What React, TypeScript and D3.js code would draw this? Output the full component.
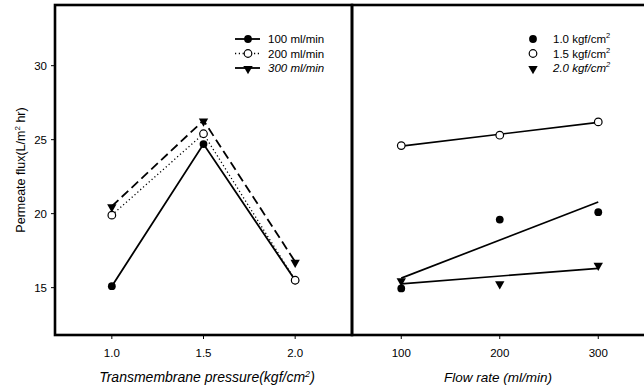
import React from "react";
import * as d3 from "d3";

// left panel: flux vs transmembrane pressure, one series per flow rate
const pressures = [1.0, 1.5, 2.0];
const flux100 = [15.1, 24.7, 15.5];
const flux200 = [19.9, 25.4, 15.5];
const flux300 = [20.5, 26.3, 16.75];

// right panel: flux vs flow rate, one series per pressure
const flowRates = [100, 200, 300];
const fluxP10 = [14.95, 19.6, 20.1];
const fluxP15 = [24.6, 25.3, 26.2];
const fluxP20 = [15.5, 15.3, 16.55];

const yTicks = [15, 20, 25, 30];
const pressureTicks = [1.0, 1.5, 2.0];
const flowTicks = [100, 200, 300];

const FONT = "'Liberation Sans', Arial, sans-serif";

const top = 5, bottom = 335;
const y = d3.scaleLinear().domain([11.8, 34.1]).range([bottom, top]);
const xL = d3.scaleLinear().domain([0.69, 2.31]).range([55, 352]);
const xR = d3.scaleLinear().domain([51, 350]).range([353, 647.5]);

const fit = (xs: number[], ys: number[]) => {
  const mx = d3.mean(xs)!, my = d3.mean(ys)!;
  const num = d3.sum(xs, (x, i) => (x - mx) * (ys[i] - my));
  const den = d3.sum(xs, (x) => (x - mx) * (x - mx));
  const b = num / den;
  return (x: number) => my + b * (x - mx);
};

const tri = d3.symbol().type(d3.symbolTriangle).size(38)();

const Marker = ({ kind, cx, cy }: { kind: string; cx: number; cy: number }) => {
  if (kind === "filled") return <circle cx={cx} cy={cy} r={3.9} fill="#000" />;
  if (kind === "open") return <circle cx={cx} cy={cy} r={3.8} fill="#fff" stroke="#000" strokeWidth={1.2} />;
  return <path d={tri!} transform={`translate(${cx},${cy + 0.8}) rotate(180)`} fill="#000" />;
};

export default function App() {
  const leftSeries = [
    { name: "100 ml/min", vals: flux100, kind: "filled", dash: undefined, italic: false },
    { name: "200 ml/min", vals: flux200, kind: "open", dash: "1.2,2.6", italic: false },
    { name: "300 ml/min", vals: flux300, kind: "tri", dash: "9,4.5", italic: true },
  ];
  const rightSeries = [
    { name: "1.0 kgf/cm", vals: fluxP10, kind: "filled", italic: false },
    { name: "1.5 kgf/cm", vals: fluxP15, kind: "open", italic: false },
    { name: "2.0 kgf/cm", vals: fluxP20, kind: "tri", italic: true },
  ];
  const lineL = d3.line<number>().x((_, i) => xL(pressures[i])).y((d) => y(d));
  const legendY = [39, 53.5, 68];

  return (
    <svg width={644} height={391} style={{ position: "absolute", left: 0, top: 0, background: "#fff" }} fontFamily={FONT}>
      {/* frames */}
      <rect x={55} y={top} width={297} height={bottom - top} fill="none" stroke="#000" strokeWidth={2.6} />
      <rect x={352} y={top} width={300} height={bottom - top} fill="none" stroke="#000" strokeWidth={2.6} />

      {/* y axis ticks */}
      {yTicks.map((t) => (
        <g key={t}>
          <line x1={51} x2={55} y1={y(t)} y2={y(t)} stroke="#000" strokeWidth={1} />
          <text x={47} y={y(t)} dy="0.35em" textAnchor="end" fontSize={11.5}>{t}</text>
        </g>
      ))}
      <text transform={`translate(25,${(top + bottom) / 2}) rotate(-90)`} textAnchor="middle" fontSize={12.5}>
        Permeate flux(L/m<tspan dy={-5} fontSize={8}>2</tspan><tspan dy={5}> hr)</tspan>
      </text>

      {/* left x axis */}
      {pressureTicks.map((t) => (
        <g key={t}>
          <line x1={xL(t)} x2={xL(t)} y1={bottom} y2={bottom + 4} stroke="#000" strokeWidth={1} />
          <text x={xL(t)} y={353} dy="0.35em" textAnchor="middle" fontSize={11.5}>{t.toFixed(1)}</text>
        </g>
      ))}
      <text x={207} y={382} textAnchor="middle" fontSize={14} fontStyle="italic">
        Transmembrane pressure(kgf/cm<tspan dy={-5.5} fontSize={9}>2</tspan><tspan dy={5.5}>)</tspan>
      </text>

      {/* right x axis */}
      {flowTicks.map((t) => (
        <g key={t}>
          <line x1={xR(t)} x2={xR(t)} y1={bottom} y2={bottom + 4} stroke="#000" strokeWidth={1} />
          <text x={xR(t)} y={353} dy="0.35em" textAnchor="middle" fontSize={11.5}>{t}</text>
        </g>
      ))}
      <text x={498} y={382} textAnchor="middle" fontSize={13.5} fontStyle="italic">Flow rate (ml/min)</text>

      {/* left panel series */}
      {leftSeries.map((s) => (
        <g key={s.name}>
          <path d={lineL(s.vals)!} fill="none" stroke="#000" strokeWidth={s.dash === "1.2,2.6" ? 1.3 : 1.8} strokeDasharray={s.dash} />
        </g>
      ))}
      {leftSeries.map((s) => (
        <g key={s.name + "m"}>
          {s.vals.map((v, i) => <Marker key={i} kind={s.kind} cx={xL(pressures[i])} cy={y(v)} />)}
        </g>
      ))}

      {/* left legend */}
      {leftSeries.map((s, i) => (
        <g key={s.name + "l"}>
          <line x1={235} x2={260} y1={legendY[i]} y2={legendY[i]} stroke="#000"
            strokeWidth={s.kind === "open" ? 1.3 : 1.8} strokeDasharray={s.kind === "open" ? s.dash : undefined} />
          <Marker kind={s.kind} cx={248} cy={legendY[i]} />
          <text x={268} y={legendY[i]} dy="0.35em" fontSize={11.5} fontStyle={s.italic ? "italic" : "normal"}>{s.name}</text>
        </g>
      ))}

      {/* right panel: regression lines and points */}
      {rightSeries.map((s) => {
        const f = fit(flowRates, s.vals);
        const x0 = flowRates[0], x1 = flowRates[flowRates.length - 1];
        return (
          <line key={s.name + "r"} x1={xR(x0)} y1={y(f(x0))} x2={xR(x1)} y2={y(f(x1))} stroke="#000" strokeWidth={1.7} />
        );
      })}
      {rightSeries.map((s) => (
        <g key={s.name + "p"}>
          {s.vals.map((v, i) => <Marker key={i} kind={s.kind} cx={xR(flowRates[i])} cy={y(v)} />)}
        </g>
      ))}

      {/* right legend */}
      {rightSeries.map((s, i) => (
        <g key={s.name + "rl"}>
          <Marker kind={s.kind} cx={533} cy={legendY[i]} />
          <text x={553} y={legendY[i]} dy="0.35em" fontSize={11.5} fontStyle={s.italic ? "italic" : "normal"}>
            {s.name}<tspan dy={-5} fontSize={7.5}>2</tspan>
          </text>
        </g>
      ))}
    </svg>
  );
}
